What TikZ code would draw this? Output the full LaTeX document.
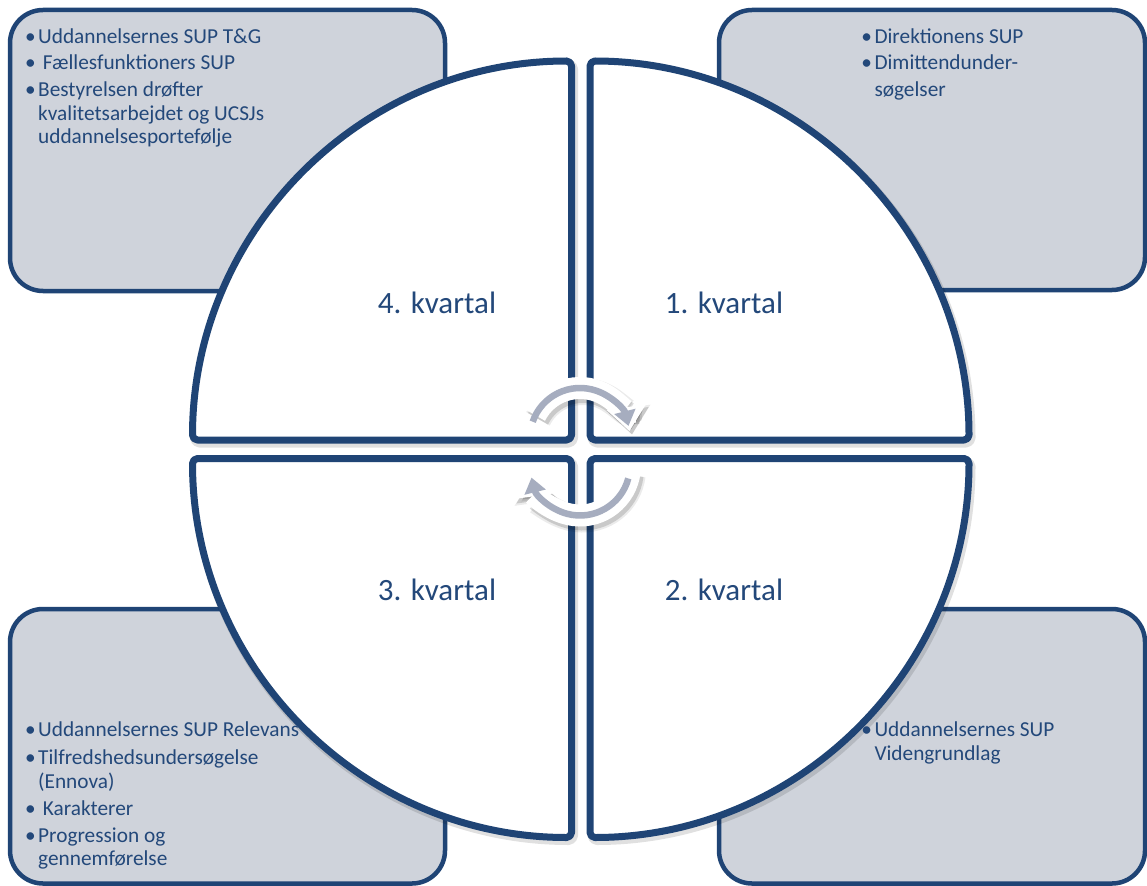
\documentclass[tikz,border=0pt]{standalone}
\usepackage{fontspec}
\setmainfont{Carlito}
\usetikzlibrary{arrows.meta}
\definecolor{navy}{RGB}{31,68,117}
\definecolor{txtblue}{RGB}{35,72,122}
\definecolor{boxgray}{RGB}{207,211,219}
\definecolor{arrgray}{RGB}{166,173,191}
\tikzset{
  sidebox/.style={draw=navy, fill=boxgray, line width=4.5pt, rounded corners=33pt},
  quarter/.style={draw=navy, fill=white, line width=7pt, rounded corners=5pt, line join=round},
  qshadow/.style={draw=black, opacity=0.12, line width=9pt, rounded corners=5pt, line join=round},
  item/.style={anchor=base west, inner sep=0pt, text=txtblue, font=\fontsize{21.3}{23.5}\selectfont},
  bul/.style={anchor=base, inner sep=0pt, text=txtblue, font=\fontsize{21.3}{23.5}\selectfont},
  qlabel/.style={anchor=base, inner sep=0pt, text=txtblue, font=\fontsize{31}{34}\selectfont},
  cycwhite/.style={draw=white, line width=22pt, -{Triangle[length=24pt,width=38pt]}},
  cycshadowA/.style={draw=black, opacity=0.08, line width=27pt, -{Triangle[length=27pt,width=43pt]}},
  cycshadowB/.style={draw=black, opacity=0.14, line width=23pt, -{Triangle[length=25pt,width=39pt]}},
  cycgray/.style={draw=arrgray, line width=6.5pt, -{Triangle[length=15pt,width=21pt]}}
}
\begin{document}
\begin{tikzpicture}[x=1pt,y=1pt]
\useasboundingbox (0,0) rectangle (1147,-885);
\fill[white] (0,0) rectangle (1147,-885);
\clip (0,0) rectangle (1147,-885);
% side boxes
\draw[sidebox] (10,-10) rectangle (445,-291);
\draw[sidebox] (719,-10) rectangle (1145,-290);
\draw[sidebox] (10,-609) rectangle (445,-883.5);
\draw[sidebox] (719,-609) rectangle (1145,-883.5);
% quarter shadows
\begin{scope}[shift={(2,-3)}]
\draw[qshadow] (571.5,-440) -- (192.5,-440) arc[start angle=180, end angle=90, radius=379] -- cycle;
\draw[qshadow] (590,-440) -- (590,-61) arc[start angle=90, end angle=0, radius=379] -- cycle;
\draw[qshadow] (571.5,-458.5) -- (571.5,-837.5) arc[start angle=270, end angle=180, radius=379] -- cycle;
\draw[qshadow] (590,-458.5) -- (969,-458.5) arc[start angle=0, end angle=-90, radius=379] -- cycle;
\end{scope}
% quarters
\draw[quarter] (571.5,-440) -- (192.5,-440) arc[start angle=180, end angle=90, radius=379] -- cycle;
\draw[quarter] (590,-440) -- (590,-61) arc[start angle=90, end angle=0, radius=379] -- cycle;
\draw[quarter] (571.5,-458.5) -- (571.5,-837.5) arc[start angle=270, end angle=180, radius=379] -- cycle;
\draw[quarter] (590,-458.5) -- (969,-458.5) arc[start angle=0, end angle=-90, radius=379] -- cycle;
% quarter labels
\node[qlabel] (q4) at (437,-313.3) {4. kvartal};
\node[qlabel] (q1) at (724,-313.3) {1. kvartal};
\node[qlabel] (q3) at (437,-600) {3. kvartal};
\node[qlabel] (q2) at (724,-600) {2. kvartal};
% cycle arrows
\coordinate (ca) at (580,-438);
\coordinate (cb) at (580,-465.5);
\coordinate (sa) at (582.5,-441.5);
\coordinate (sb) at (582.5,-469);
\draw[cycshadowA] ([shift={(153:50)}]sa) arc[start angle=153, end angle=8, radius=50];
\draw[cycshadowA] ([shift={(-7:50)}]sb) arc[start angle=-7, end angle=-172, radius=50];
\draw[cycshadowB] ([shift={(153:50)}]sa) arc[start angle=153, end angle=8, radius=50];
\draw[cycshadowB] ([shift={(-7:50)}]sb) arc[start angle=-7, end angle=-172, radius=50];
\draw[cycwhite] ([shift={(153:50)}]ca) arc[start angle=153, end angle=8, radius=50];
\draw[cycwhite] ([shift={(-7:50)}]cb) arc[start angle=-7, end angle=-172, radius=50];
\draw[cycgray] ([shift={(161:50)}]ca) arc[start angle=161, end angle=14, radius=50];
\draw[cycgray] ([shift={(-15:50)}]cb) arc[start angle=-15, end angle=-166, radius=50];
% top-left box text
\node[bul] (tlb1) at (30.5,-43.5) {•};
\node[item] (tl1) at (38,-43.5) {Uddannelsernes SUP T\&G};
\node[bul] (tlb2) at (30.5,-70) {•};
\node[item] (tl2) at (42.7,-70) {Fællesfunktioners SUP};
\node[bul] (tlb3) at (30.5,-96.7) {•};
\node[item] (tl3) at (38,-96.7) {Bestyrelsen drøfter};
\node[item] (tl4) at (38,-120.7) {kvalitetsarbejdet og UCSJs};
\node[item] (tl5) at (38,-143.3) {uddannelsesportefølje};
% top-right box text
\node[bul] (trb1) at (866.7,-43.3) {•};
\node[item] (tr1) at (874.3,-43.3) {Direktionens SUP};
\node[bul] (trb2) at (866.7,-70) {•};
\node[item] (tr2) at (874.3,-70) {Dimittendunder-};
\node[item] (tr3) at (874.3,-96.7) {søgelser};
% bottom-left box text
\node[bul] (blb1) at (30.5,-736.7) {•};
\node[item] (bl1) at (38,-736.7) {Uddannelsernes SUP Relevans};
\node[bul] (blb2) at (30.5,-764) {•};
\node[item] (bl2) at (38,-764) {Tilfredshedsundersøgelse};
\node[item] (bl3) at (38,-788.3) {(Ennova)};
\node[bul] (blb3) at (30.5,-815) {•};
\node[item] (bl4) at (42.7,-815) {Karakterer};
\node[bul] (blb4) at (30.5,-842.3) {•};
\node[item] (bl5) at (38,-842.3) {Progression og};
\node[item] (bl6) at (38,-865.7) {gennemførelse};
% bottom-right box text
\node[bul] (brb1) at (866.7,-736.7) {•};
\node[item] (br1) at (874.3,-736.7) {Uddannelsernes SUP};
\node[item] (br2) at (874.3,-760.7) {Videngrundlag};
\end{tikzpicture}
\end{document}
